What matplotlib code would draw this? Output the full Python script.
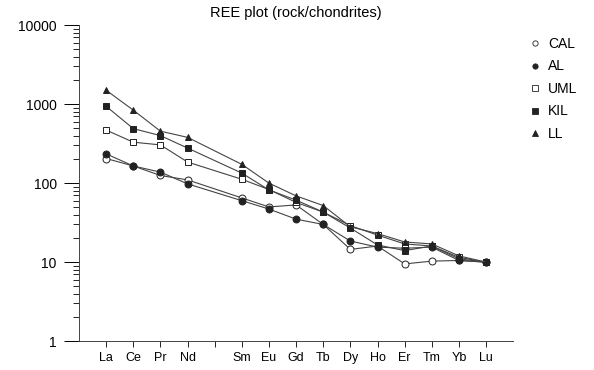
import numpy as np
import matplotlib.pyplot as plt
from matplotlib.lines import Line2D
from matplotlib.ticker import LogLocator, NullFormatter, FixedLocator

plt.rcParams['font.family'] = ['Liberation Sans', 'DejaVu Sans']

# element positions (Pm has a tick but no data / label)
elements = ["La", "Ce", "Pr", "Nd", "", "Sm", "Eu", "Gd", "Tb", "Dy", "Ho", "Er", "Tm", "Yb", "Lu"]
ree = ["La", "Ce", "Pr", "Nd", "Sm", "Eu", "Gd", "Tb", "Dy", "Ho", "Er", "Tm", "Yb", "Lu"]

cal = [205, 165, 125, 110, 65, 50, 53, 30, 14.5, 16, 9.5, 10.3, 10.5, 10]
al = [235, 165, 138, 98, 60, 47, 35, 30, 18.5, 15.5, 15, 15.5, 10.5, 10]
uml = [470, 330, 305, 185, 112, 83, 57, 43, 29, 22, 17, 16, 11.5, 10]
kil = [940, 490, 400, 278, 134, 82, 61, 43, 27, 16.5, 14, 16, 11, 10]
ll = [1500, 840, 455, 380, 173, 100, 69, 52, 28, 23, 18, 17, 12, 10]

series = [("CAL", cal, "o", "white"),
          ("AL", al, "o", "#222222"),
          ("UML", uml, "s", "white"),
          ("KIL", kil, "s", "#222222"),
          ("LL", ll, "^", "#222222")]

def main():
  fig = plt.figure(figsize=(5.94, 3.70), dpi=100)
  ax = fig.add_axes([0.133, 0.078, 0.731, 0.854])

  xpos = [elements.index(e) + 1 for e in ree]
  for name, vals, mk, fc in series:
    ax.plot(xpos, vals, color="#444444", lw=0.8, marker=mk, ms=5,
            mfc=fc, mec="#222222", mew=0.7, zorder=3)

  ax.set_yscale("log")
  ax.set_ylim(1, 10000)
  ax.set_xlim(0, 16)
  ax.xaxis.set_major_locator(FixedLocator(range(1, 16)))
  ax.set_xticklabels(elements, fontsize=9)
  ax.yaxis.set_major_locator(LogLocator(base=10))
  ax.yaxis.set_minor_locator(LogLocator(base=10, subs=np.arange(2, 10)))
  ax.yaxis.set_minor_formatter(NullFormatter())
  ax.set_yticks([1, 10, 100, 1000, 10000])
  ax.set_yticklabels(["1", "10", "100", "1000", "10000"], fontsize=10)
  ax.tick_params(axis="y", which="major", length=11, width=0.7, pad=5)
  ax.tick_params(axis="y", which="minor", length=4, width=0.6)
  ax.tick_params(axis="x", which="major", length=4, width=0.6, pad=4)

  for s in ["top", "right"]:
    ax.spines[s].set_visible(False)
  for s in ["left", "bottom"]:
    ax.spines[s].set_linewidth(0.7)
    ax.spines[s].set_color("#444444")

  ax.set_title("REE plot (rock/chondrites)", fontsize=10.5, pad=6)

  handles = [Line2D([], [], ls="none", marker=mk, ms=3.8, mfc=fc, mec="#222222",
                    mew=0.6, label=name) for name, vals, mk, fc in series]
  fig.legend(handles=handles, loc="upper left", bbox_to_anchor=(0.889, 0.9),
             frameon=False, fontsize=10, labelspacing=0.61, handlelength=1.0,
             handletextpad=0.44, borderpad=0, borderaxespad=0)

  fig.savefig("out.png", dpi=100)

if __name__ == '__main__':
  main()
